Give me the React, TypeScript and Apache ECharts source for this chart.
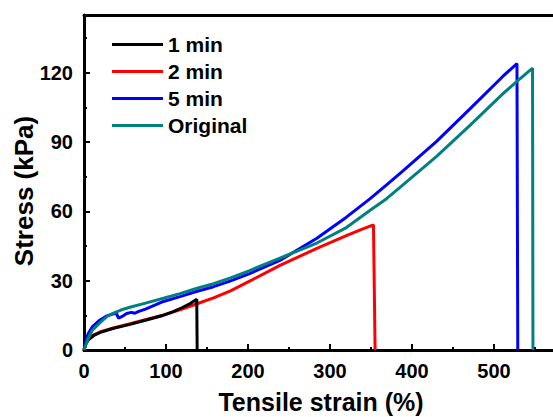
import React, { useEffect, useRef } from "react";
import * as echarts from "echarts";

const seriesNames = ["1 min", "2 min", "5 min", "Original"];
const seriesColors = ["#000000", "#ff0000", "#0000ff", "#008080"];

const data1min: number[][] = [
  [0, 0], [2, 2.5], [5, 4.2], [7.3, 5], [12, 6.3], [20, 7.6], [36, 9.4], [55, 11], [76, 13],
  [95, 14.8], [109, 16.6], [120, 18.4], [130, 20.2], [137.5, 22], [138, 0],
];
const data2min: number[][] = [
  [0, 0], [2, 2.5], [5, 4.4], [7.3, 5.2], [12, 6.6], [20, 7.9], [36, 9.5], [55, 11.3], [76, 13.2],
  [97, 15.2], [117, 17.4], [137, 19.9], [158, 22.6], [178, 25.5], [202, 29.8], [239, 36.6],
  [284, 44], [320, 49.5], [340, 52.4], [353, 54.2], [355, 0],
];
const data5min: number[][] = [
  [0, 0], [2, 3.5], [5, 7], [10, 10], [19.5, 13], [28, 14.8], [37, 15.8], [40, 15.5], [42, 13.8],
  [46, 14.4], [52, 15.8], [58, 16.3], [62, 15.9], [66, 16.6], [75, 17.7], [97, 21], [117, 23.1],
  [137, 25.3], [158, 27.4], [178, 29.8], [202, 33.1], [239, 38.8], [284, 48.4], [320, 57.5],
  [349, 65.5], [369, 71.5], [389, 77.5], [430, 90.3], [471, 104.5], [511, 118.5], [528, 124],
  [529, 0],
];
const dataOriginal: number[][] = [
  [0, 0], [2, 2], [5, 5], [10, 8.5], [19.5, 11.8], [28, 14.5], [36, 16], [45, 17.3], [56, 18.5],
  [75, 20.3], [97, 22.4], [117, 24.4], [137, 26.6], [158, 28.7], [178, 31.1], [202, 34.4],
  [239, 39.8], [284, 46.3], [320, 53], [349, 60.5], [369, 65.5], [389, 71.5], [430, 83.8],
  [471, 97.3], [511, 111], [528, 116.3], [547, 122], [547.5, 0],
];
const seriesData = [data1min, data2min, data5min, dataOriginal];

const xTickValues = [0, 100, 200, 300, 400, 500];
const yTickValues = [0, 30, 60, 90, 120];

const FONT = "'Liberation Sans', Arial, sans-serif";
const GRID = { left: 84, top: 15, width: 492, height: 335 };

export default function App() {
  const ref = useRef<HTMLDivElement>(null);
  useEffect(() => {
    document.body.style.margin = "0";
    if (!ref.current) return;
    const chart = echarts.init(ref.current, null, { renderer: "svg" });
    const axisLine = { show: true, onZero: false, lineStyle: { color: "#000", width: 3 } };
    const labelStyle = { color: "#000", fontSize: 20, fontWeight: "bold" as const, fontFamily: FONT };
    chart.setOption({
      animation: false,
      backgroundColor: "#ffffff",
      grid: { ...GRID, containLabel: false, outerBoundsMode: "none" },
      legend: {
        orient: "vertical",
        left: 107,
        top: 29,
        itemWidth: 51,
        itemHeight: 3,
        itemGap: 6,
        icon: "rect",
        data: seriesNames,
        textStyle: { color: "#000", fontSize: 21, fontWeight: "bold", fontFamily: FONT },
      },
      xAxis: [
        {
          type: "value",
          position: "bottom",
          min: 0,
          max: 600,
          interval: 100,
          axisLine,
          axisTick: { show: true, inside: true, length: 6, lineStyle: { color: "#000", width: 2 } },
          minorTick: { show: true, splitNumber: 2, length: 3, lineStyle: { color: "#000", width: 2 } },
          axisLabel: {
            ...labelStyle,
            margin: 11,
            formatter: (v: number) => (xTickValues.includes(v) ? String(v) : ""),
          },
          splitLine: { show: false },
        },
        {
          type: "value",
          position: "top",
          min: 0,
          max: 600,
          axisLine,
          axisTick: { show: false },
          axisLabel: { show: false },
          splitLine: { show: false },
        },
      ],
      yAxis: [
        {
          type: "value",
          position: "left",
          min: 0,
          max: 145,
          interval: 30,
          axisLine,
          axisTick: { show: true, inside: true, length: 6, lineStyle: { color: "#000", width: 2 } },
          axisLabel: {
            ...labelStyle,
            margin: 11,
            formatter: (v: number) => (yTickValues.includes(v) ? String(v) : ""),
          },
          splitLine: { show: false },
        },
        {
          type: "value",
          position: "right",
          offset: -GRID.width,
          min: 0,
          max: 145,
          interval: 15,
          axisLine: { show: false, onZero: false },
          axisTick: { show: true, inside: false, length: 3, lineStyle: { color: "#000", width: 2 } },
          axisLabel: { show: false },
          splitLine: { show: false },
        },
      ],
      graphic: [
        {
          type: "text",
          x: 321,
          y: 402,
          style: {
            text: "Tensile strain (%)",
            fill: "#000",
            font: `bold 25px ${FONT}`,
            align: "center",
            verticalAlign: "middle",
          },
        },
        {
          type: "text",
          x: 24,
          y: 191,
          rotation: Math.PI / 2,
          style: {
            text: "Stress (kPa)",
            fill: "#000",
            font: `bold 26px ${FONT}`,
            align: "center",
            verticalAlign: "middle",
          },
        },
      ],
      series: seriesNames.map((name, i) => ({
        name,
        type: "line",
        xAxisIndex: 0,
        yAxisIndex: 0,
        data: seriesData[i],
        showSymbol: false,
        symbol: "none",
        color: seriesColors[i],
        lineStyle: { color: seriesColors[i], width: 3 },
        z: 2 + (i === 0 ? 3 : i),
      })),
    });
    return () => chart.dispose();
  }, []);
  return <div ref={ref} style={{ width: 553, height: 417 }} />;
}
